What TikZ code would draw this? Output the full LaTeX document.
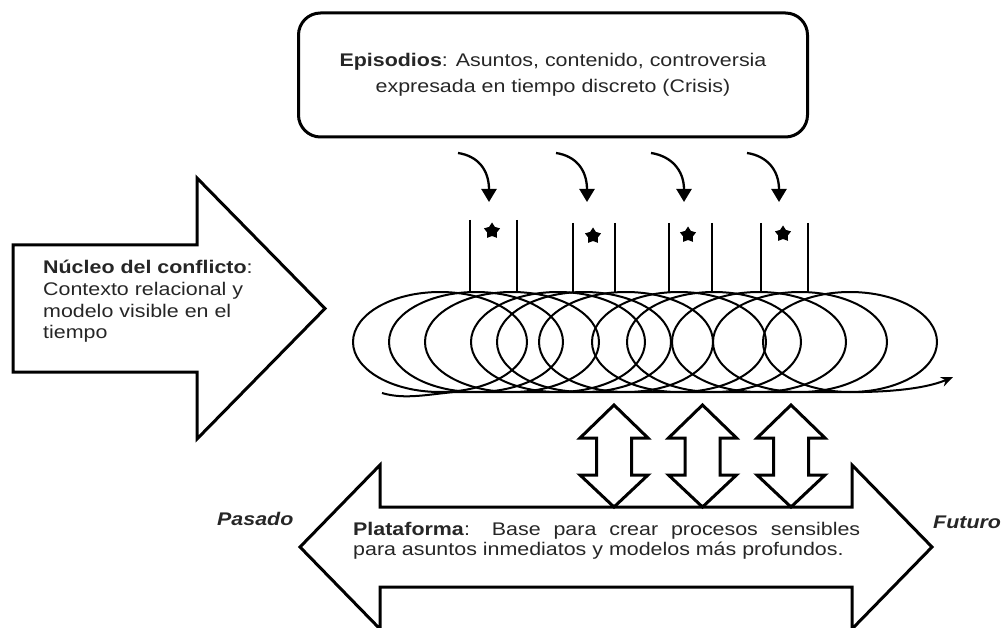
\documentclass[tikz,border=0pt]{standalone}
\usepackage{fontspec}
\setmainfont{Liberation Sans}[FakeStretch=1.17]
\usetikzlibrary{arrows.meta,shapes.geometric}

\begin{document}
\begin{tikzpicture}[x=1pt,y=-1pt,
  outline/.style={draw=black, line width=3pt, fill=white, line join=miter},
  coil/.style={draw=black, line width=2pt},
  post/.style={draw=black, line width=1.9pt},
  epi/.style={draw=black, line width=2.3pt, -{Triangle[width=15pt,length=13pt]}},
  starmark/.style={star, star points=5, star point ratio=1.7, fill=black, draw=none,
                   inner sep=0pt, minimum size=17pt},
  txt/.style={text=black!85, inner sep=0pt},
  bodyfont/.style={font=\fontsize{18.3}{21.7}\selectfont},
]
\useasboundingbox (0,0) rectangle (1003,628);

% ---- Episodes box ----
\node[txt, draw=black, line width=3pt, rounded corners=22pt,
      minimum width=509pt, minimum height=124pt, align=center,
      font=\fontsize{18.3}{26.5}\selectfont] (episodios) at (553,75)
  {\textbf{Episodios}: Asuntos, contenido, controversia\\
   expresada en tiempo discreto (Crisis)};

% ---- Core arrow (left) ----
\draw[outline] (13,245) -- (197,245) -- (197,178) -- (325,308.5)
  -- (197,439) -- (197,372) -- (13,372) -- cycle;
\node[txt, bodyfont, align=left, anchor=north west] (nucleo) at (43,260)
  {\textbf{Núcleo del conflicto}:\\Contexto relacional y\\modelo visible en el\\tiempo};

% ---- Platform double arrow (bottom) ----
\draw[outline] (300,547) -- (380,465) -- (380,507) -- (852,507) -- (852,465)
  -- (932,547) -- (852,629) -- (852,587) -- (380,587) -- (380,629) -- cycle;
\node[txt, bodyfont, text width=507pt, align=justify, anchor=north west,
      font=\fontsize{18.3}{20.5}\selectfont]
  (plataforma) at (353,522)
  {\textbf{Plataforma}: Base para crear procesos sensibles\linebreak
   para asuntos inmediatos y modelos más profundos.};
\node[txt, bodyfont, anchor=base west] (pasado) at (217,525) {\textbf{\textit{Pasado}}};
\node[txt, bodyfont, anchor=base west] (futuro) at (933,528) {\textbf{\textit{Futuro}}};

% ---- Vertical two-way arrows between coil and platform ----
\foreach \cx in {614,702.5,791} {
  \draw[outline] (\cx,405) -- (\cx+34,438) -- (\cx+17.5,438) -- (\cx+17.5,475)
    -- (\cx+34,475) -- (\cx,507) -- (\cx-34,475) -- (\cx-17.5,475)
    -- (\cx-17.5,438) -- (\cx-34,438) -- cycle;
}

% ---- Coil of relationships over time ----
\foreach \cx in {440,476,512,558,584,626,679,714,759,800,850} {
  \draw[coil] (\cx,342) ellipse [x radius=87, y radius=50];
}
\coordinate (sw0) at (382,393);
\coordinate (sw1) at (953,377);
\draw[coil, -{Stealth[length=12pt,width=10pt]}] (sw0)
  .. controls (405,400) and (430,394) .. (455,392) -- (835,392)
  .. controls (885,393) and (925,389) .. (sw1);

% ---- Episode posts with stars ----
\foreach \i/\xa/\xb/\yt/\sx/\sy in
  {1/470/517/220/492/231, 2/573/615/223/593/236,
   3/669/712/223/688/235, 4/761/808/223/783/234} {
  \draw[post] (\xa,\yt) -- (\xa,292);
  \draw[post] (\xb,\yt) -- (\xb,292);
  \node[starmark] (star\i) at (\sx,\sy) {};
}

% ---- Episode arrows dropping onto the coil ----
\foreach \i/\sx/\ex in {1/458/489, 2/556/587, 3/651/684, 4/747/779} {
  \coordinate (es\i) at (\sx,153);
  \coordinate (et\i) at (\ex,202);
  \draw[epi] (es\i) .. controls +(20,3) and +(0,-32) .. (et\i);
}
\end{tikzpicture}
\end{document}
